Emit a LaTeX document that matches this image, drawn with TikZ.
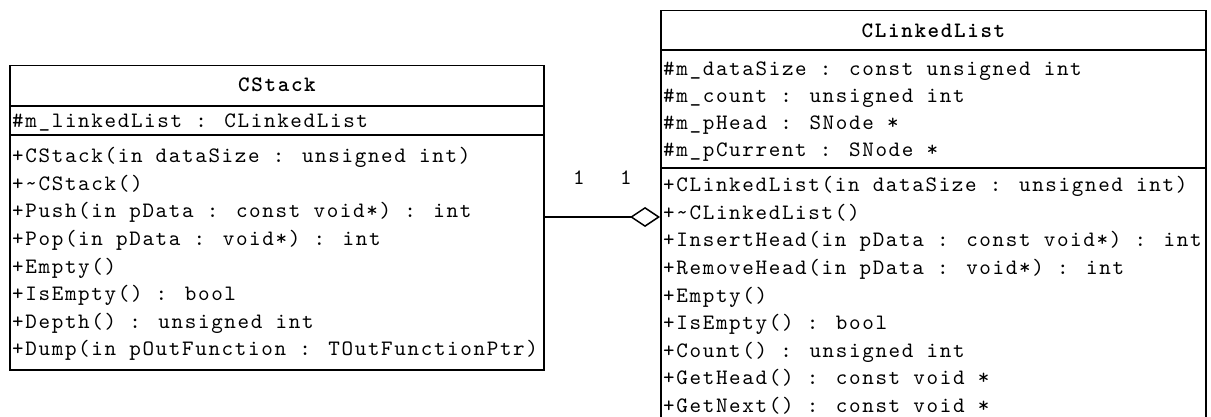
\documentclass[tikz,border=0pt]{standalone}
\usepackage{fontspec}
\usetikzlibrary{arrows.meta}
\newfontfamily\umlmono{lmmono10-regular.otf}[LetterSpace=7.5, BoldFont=lmmonolt10-bold.otf]
\newcommand{\umlfont}{\fontsize{22}{26}\selectfont\umlmono}
\begin{document}
\begin{tikzpicture}[x=1pt,y=-1pt,
  umlbox/.style={draw, line width=1.5pt, inner sep=0pt, anchor=north west},
  divider/.style={line width=1.5pt},
  member/.style={anchor=base west, inner sep=0pt, font=\umlfont},
  classname/.style={anchor=base, inner sep=0pt, font=\umlfont\bfseries},
  mult/.style={anchor=base, inner sep=0pt, font=\umlfont},
  assoc/.style={line width=1.2pt, -{Diamond[open, length=30pt, width=20pt, line width=1.5pt]}}
]
\useasboundingbox (0,0) rectangle (1211,417);
\clip (0,0) rectangle (1211,417);
\fill[white] (0,0) rectangle (1211,417);

% CStack
\node[umlbox, minimum width=534pt, minimum height=304pt] (stack) at (9,65) {};
\draw[divider] (stack.west |- 0,106) -- (stack.east |- 0,106);
\draw[divider] (stack.west |- 0,135) -- (stack.east |- 0,135);
\node[classname] (stackname) at (277,92) {CStack};
\node[member] (sa1) at (12,128) {\#m\_linkedList : CLinkedList};
\node[member] (so1) at (12,163) {+CStack(in dataSize : unsigned int)};
\node[member] (so2) at (12,190.5) {+\textasciitilde CStack()};
\node[member] (so3) at (12,218) {+Push(in pData : const void*) : int};
\node[member] (so4) at (12,245.5) {+Pop(in pData : void*) : int};
\node[member] (so5) at (12,273) {+Empty()};
\node[member] (so6) at (12,300.5) {+IsEmpty() : bool};
\node[member] (so7) at (12,328) {+Depth() : unsigned int};
\node[member] (so8) at (12,355.5) {+Dump(in pOutFunction : TOutFunctionPtr)};

% CLinkedList
\node[umlbox, minimum width=545pt, minimum height=414pt] (list) at (660,10) {};
\draw[divider] (list.west |- 0,50) -- (list.east |- 0,50);
\draw[divider] (list.west |- 0,168) -- (list.east |- 0,168);
\node[classname] (listname) at (933.5,38) {CLinkedList};
\node[member] (la1) at (663,76) {\#m\_dataSize : const unsigned int};
\node[member] (la2) at (663,103) {\#m\_count : unsigned int};
\node[member] (la3) at (663,130) {\#m\_pHead : SNode *};
\node[member] (la4) at (663,157) {\#m\_pCurrent : SNode *};
\node[member] (lo1) at (663,192) {+CLinkedList(in dataSize : unsigned int)};
\node[member] (lo2) at (663,219.5) {+\textasciitilde CLinkedList()};
\node[member] (lo3) at (663,247) {+InsertHead(in pData : const void*) : int};
\node[member] (lo4) at (663,274.5) {+RemoveHead(in pData : void*) : int};
\node[member] (lo5) at (663,302) {+Empty()};
\node[member] (lo6) at (663,329.5) {+IsEmpty() : bool};
\node[member] (lo7) at (663,357) {+Count() : unsigned int};
\node[member] (lo8) at (663,384.5) {+GetHead() : const void *};
\node[member] (lo9) at (663,412) {+GetNext() : const void *};

% association
\coordinate (joinA) at (stack.east |- 0,217);
\coordinate (joinB) at (list.west |- 0,217);
\draw[assoc] (joinA) -- (joinB);
\node[mult] (m1) at (579,185) {1};
\node[mult] (m2) at (626,185) {1};
\end{tikzpicture}
\end{document}
